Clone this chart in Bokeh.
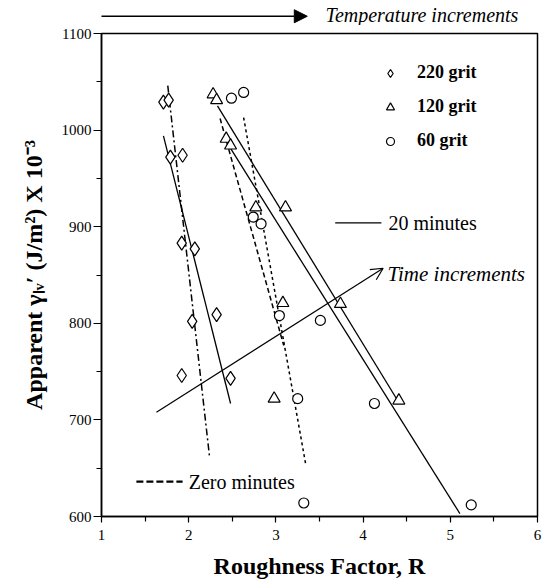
from bokeh.plotting import figure
from bokeh.layouts import column
from bokeh.models import Range1d, Arrow, NormalHead, OpenHead, FixedTicker, Legend, LegendItem
from bokeh.core.properties import value
from bokeh.embed import file_html
from bokeh.resources import INLINE

# ---- data ----
r220 = [1.71, 1.77, 1.79, 1.93, 1.92, 2.07, 2.04, 2.32, 1.92, 2.48]
g220 = [1029, 1031, 972, 974, 883, 877, 802, 809, 746, 743]

r120 = [2.28, 2.32, 2.43, 2.48, 2.77, 3.11, 3.08, 3.74, 2.98, 4.41]
g120 = [1037, 1031, 991, 984, 920, 920, 821, 820, 722, 720]

r60 = [2.49, 2.63, 2.74, 2.83, 3.04, 3.51, 3.25, 4.13, 3.32, 5.24]
g60 = [1033, 1039, 910, 903, 808, 803, 722, 717, 614, 612]

# fitted lines (end points)
fit220_20_x = [1.71, 2.48]
fit220_20_y = [994, 717]
fit220_0_x = [1.76, 2.24]
fit220_0_y = [1046, 661]
fit120_20_x = [2.33, 4.41]
fit120_20_y = [1025, 718]
fit60_20_x = [2.48, 5.11]
fit60_20_y = [981, 603]
fit120_0_x = [2.36, 3.09]
fit120_0_y = [1012, 777]
fit60_0_x = [2.63, 3.34]
fit60_0_y = [1013, 655]

x_ticks = [1, 2, 3, 4, 5, 6]
x_minor = [1.5, 2.5, 3.5, 4.5, 5.5]
y_ticks = [600, 700, 800, 900, 1000, 1100]
y_minor = [650, 750, 850, 950, 1050]

SERIF = "Liberation Serif"
W = 543
TOP_H = 25

# ---------- strip above the chart: temperature increments arrow ----------
top = figure(width=W, height=TOP_H, output_backend="svg", toolbar_location=None,
             x_range=Range1d(1, 6), y_range=Range1d(0, 1),
             x_axis_type=None, y_axis_type=None,
             min_border_left=101, min_border_right=6, min_border_top=0, min_border_bottom=0)
top.outline_line_color = None
top.xgrid.visible = False
top.ygrid.visible = False
top.add_layout(Arrow(x_start=0.874, y_start=0.37, x_end=3.36, y_end=0.37,
                     line_color="black", line_width=1.3,
                     end=NormalHead(size=13, fill_color="black", line_color="black")))
top.text([3.57], [0.42], text=["Temperature increments"], text_font=value(SERIF),
         text_font_size="20px", text_font_style="italic", text_baseline="middle", text_color="black")

# ---------- main chart ----------
p = figure(width=W, height=582 - TOP_H, x_range=Range1d(1, 6), y_range=Range1d(600, 1100),
           output_backend="svg", toolbar_location=None,
           min_border_left=101, min_border_right=6, min_border_top=8, min_border_bottom=66)
p.background_fill_color = "white"
p.border_fill_color = "white"
p.xgrid.visible = False
p.ygrid.visible = False
p.outline_line_color = "black"
p.outline_line_width = 1.5

p.xaxis.ticker = FixedTicker(ticks=x_ticks, minor_ticks=x_minor)
p.yaxis.ticker = FixedTicker(ticks=y_ticks, minor_ticks=y_minor)
for ax in (p.xaxis[0], p.yaxis[0]):
    ax.axis_line_color = "black"
    ax.axis_line_width = 1.5
    ax.major_tick_line_color = "black"
    ax.minor_tick_line_color = "black"
    ax.major_tick_line_width = 1.2
    ax.minor_tick_line_width = 1.2
    ax.major_tick_in = 0
    ax.minor_tick_in = 0
    ax.major_label_text_font = SERIF
    ax.major_label_text_font_size = "15px"
    ax.major_label_text_color = "black"
    ax.axis_label_text_font = SERIF
    ax.axis_label_text_font_style = "bold"
    ax.axis_label_text_color = "black"

p.xaxis.major_tick_out = 6
p.xaxis.minor_tick_out = 5
p.yaxis.major_tick_out = 8
p.yaxis.minor_tick_out = 5
p.xaxis.major_label_standoff = 7
p.yaxis.major_label_standoff = 2
p.xaxis.axis_label = "Roughness Factor, R"
p.xaxis.axis_label_text_font_size = "24px"
p.xaxis.axis_label_standoff = 10
p.yaxis.axis_label = "Apparent γₗᵥ′ (J/m²) X 10⁻³"
p.yaxis.axis_label_text_font_size = "24px"
p.yaxis.axis_label_standoff = 12

# fitted lines
p.line(fit220_20_x, fit220_20_y, line_color="black", line_width=1.3)
p.line(fit120_20_x, fit120_20_y, line_color="black", line_width=1.3)
p.line(fit60_20_x, fit60_20_y, line_color="black", line_width=1.3)
p.line(fit220_0_x, fit220_0_y, line_color="black", line_width=1.5, line_dash="7 3 2 3")
p.line(fit120_0_x, fit120_0_y, line_color="black", line_width=1.5, line_dash="5 3")
p.line(fit60_0_x, fit60_0_y, line_color="black", line_width=1.5, line_dash="3 3")

# markers
s220 = p.scatter(r220, g220, marker="diamond", size=14, fill_color="white", line_color="black", line_width=1.2)
s120 = p.scatter(r120, g120, marker="triangle", size=12, fill_color="white", line_color="black", line_width=1.2)
s60 = p.scatter(r60, g60, marker="circle", size=10, fill_color="white", line_color="black", line_width=1.2)

legend = Legend(items=[LegendItem(label="220 grit", renderers=[s220]),
                       LegendItem(label="120 grit", renderers=[s120]),
                       LegendItem(label="60 grit", renderers=[s60])],
                location=(279, 365), orientation="vertical",
                padding=0, margin=0, spacing=13, glyph_width=20, glyph_height=20,
                label_height=20, label_standoff=17,
                border_line_color=None, background_fill_alpha=0,
                label_text_font=SERIF, label_text_font_style="bold",
                label_text_font_size="18px", label_text_color="black")
p.add_layout(legend)

# line-style key
p.line([3.68, 4.21], [904, 904], line_color="black", line_width=1.3)
p.text([4.29], [904], text=["20 minutes"], text_font=value(SERIF), text_font_size="20px",
       text_baseline="middle", text_color="black")
p.line([1.40, 1.93], [636, 636], line_color="black", line_width=2.2, line_dash="7 3")
p.text([2.0], [636], text=["Zero minutes"], text_font=value(SERIF), text_font_size="20px",
       text_baseline="middle", text_color="black")

# time increments arrow
p.add_layout(Arrow(x_start=1.63, y_start=708, x_end=4.23, y_end=857,
                   line_color="black", line_width=1.2,
                   end=OpenHead(size=12, line_color="black", line_width=1.2)))
p.text([4.28], [851], text=["Time increments"], text_font=value(SERIF), text_font_size="21px",
       text_font_style="italic", text_baseline="middle", text_color="black")

open("out.html", "w").write(file_html(column(top, p, spacing=0), INLINE))
